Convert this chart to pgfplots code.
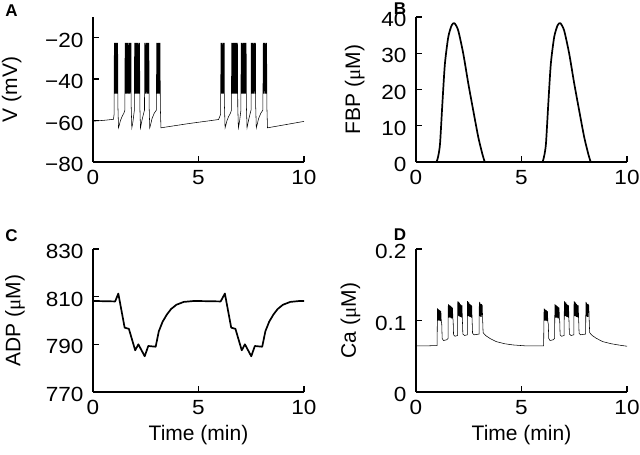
\documentclass[border=0pt]{standalone}
\usepackage{fontspec}
\setmainfont{Liberation Sans}
\newfontfamily\tickfont[FakeStretch=1.1]{Liberation Sans}
\newfontfamily\serifmu{Liberation Serif}
\usepackage{pgfplots}
\pgfplotsset{compat=1.18}
\pgfplotsset{
  panel/.style={
    scale only axis, width=211pt, anchor=south west,
    xmin=0, xmax=10, xtick={0,5,10},
    axis x line*=bottom, axis y line*=left,
    axis line style={line width=1.3pt},
    tick align=inside, major tick length=6pt,
    tick style={line width=1.3pt, black},
    tick label style={font=\tickfont\fontsize{20.5}{24}\selectfont},
    label style={font=\fontsize{21}{25}\selectfont},
    /pgf/number format/assume math mode=true,
    xticklabel style={yshift=-5pt},
    yticklabel style={xshift=-6pt, yshift=-2.5pt},
    xlabel style={at={(axis description cs:0.5,-0.30)}, anchor=center},
  },
  thin trace/.style={black, line width=0.55pt, no markers},
  thick trace/.style={black, line width=1.7pt, no markers, line join=round},
}
\newcommand{\mum}{({\serifmu μ}M)}
\begin{document}
\begin{tikzpicture}
\useasboundingbox (0,0) rectangle (640pt,455pt);
% ---------------- A ----------------
\begin{axis}[panel, at={(93pt,293pt)}, height=145pt,
  ymin=-80, ymax=-10, ytick={-80,-60,-40,-20},
  yticklabels={−80,−60,−40,−20},
  ylabel={V (mV)},
  ylabel style={at={(axis description cs:-0.385,0.5)}, anchor=center}]
\addplot[thin trace] coordinates {
(0,-60.3) (0.5,-59.9) (0.97,-59.4) (1.0,-57)
(1.01,-22.5)(1.03,-47)(1.05,-22.5)(1.07,-47)(1.09,-22.5)(1.11,-47)(1.13,-22.5)(1.15,-47)(1.17,-22.5)(1.18,-53)
(1.21,-63.5)(1.25,-62)(1.30,-60)(1.38,-58)(1.46,-56.5)(1.51,-55)
(1.52,-22.5)(1.54,-47)(1.56,-22.5)(1.58,-47)(1.60,-22.5)(1.62,-47)(1.64,-22.5)(1.66,-47)(1.68,-22.5)(1.70,-47)(1.72,-22.5)(1.74,-47)(1.76,-22.5)(1.78,-47)(1.80,-22.5)(1.81,-53)
(1.84,-63.5)(1.87,-62)(1.90,-60)(1.93,-57.5)(1.96,-55)
(1.97,-22.5)(1.99,-47)(2.01,-22.5)(2.03,-47)(2.05,-22.5)(2.07,-47)(2.09,-22.5)(2.11,-47)(2.13,-22.5)(2.15,-47)(2.17,-22.5)(2.19,-47)(2.21,-22.5)(2.22,-53)
(2.25,-63.5)(2.29,-61.5)(2.34,-59)(2.40,-56.5)(2.44,-55)
(2.45,-22.5)(2.47,-47)(2.49,-22.5)(2.51,-47)(2.53,-22.5)(2.55,-47)(2.57,-22.5)(2.59,-47)(2.61,-22.5)(2.63,-47)(2.65,-22.5)(2.66,-53)
(2.69,-63.5)(2.74,-61.5)(2.80,-59)(2.90,-56.5)(3.00,-55)
(3.02,-22.5)(3.04,-47)(3.06,-22.5)(3.08,-47)(3.10,-22.5)(3.12,-47)(3.14,-22.5)(3.16,-47)(3.18,-22.5)(3.19,-53)
(3.22,-63.5)(4.5,-61.5)(5.95,-59.5)(6.05,-57)
(6.06,-22.5)(6.08,-47)(6.10,-22.5)(6.12,-47)(6.14,-22.5)(6.16,-47)(6.18,-22.5)(6.20,-47)(6.22,-22.5)(6.23,-53)
(6.26,-63.5)(6.30,-62)(6.35,-60)(6.43,-58)(6.51,-56.5)(6.56,-55)
(6.57,-22.5)(6.59,-47)(6.61,-22.5)(6.63,-47)(6.65,-22.5)(6.67,-47)(6.69,-22.5)(6.71,-47)(6.73,-22.5)(6.75,-47)(6.77,-22.5)(6.79,-47)(6.81,-22.5)(6.83,-47)(6.85,-22.5)(6.86,-53)
(6.89,-63.5)(6.92,-62)(6.95,-60)(6.98,-57.5)(7.01,-55)
(7.02,-22.5)(7.04,-47)(7.06,-22.5)(7.08,-47)(7.10,-22.5)(7.12,-47)(7.14,-22.5)(7.16,-47)(7.18,-22.5)(7.20,-47)(7.22,-22.5)(7.24,-47)(7.26,-22.5)(7.27,-53)
(7.30,-63.5)(7.34,-61.5)(7.39,-59)(7.45,-56.5)(7.49,-55)
(7.50,-22.5)(7.52,-47)(7.54,-22.5)(7.56,-47)(7.58,-22.5)(7.60,-47)(7.62,-22.5)(7.64,-47)(7.66,-22.5)(7.68,-47)(7.70,-22.5)(7.71,-53)
(7.74,-63.5)(7.79,-61.5)(7.85,-59)(7.95,-56.5)(8.05,-55)
(8.07,-22.5)(8.09,-47)(8.11,-22.5)(8.13,-47)(8.15,-22.5)(8.17,-47)(8.19,-22.5)(8.21,-47)(8.23,-22.5)(8.24,-53)
(8.27,-63.5)(10,-60.4)
};
\end{axis}
% ---------------- B ----------------
\begin{axis}[panel, at={(416pt,293pt)}, height=145pt,
  ymin=0, ymax=40, ytick={0,10,20,30,40},
  ylabel={FBP \mum},
  ylabel style={at={(axis description cs:-0.29,0.5)}, anchor=center}]
\addplot[thick trace, smooth, tension=0.4] coordinates {
(0,0) (0.9,0) (0.98,0.1) (1.06,1.8) (1.14,5.1) (1.25,16.1) (1.37,27.1) (1.53,34.5) (1.69,37.7) (1.82,38.3)
(2.0,36.3) (2.24,29.9) (2.48,21.6) (2.71,14.3) (2.95,6.9) (3.14,2.3) (3.25,0.2) (3.3,0) (5.9,0)
(6.0,0.1) (6.08,1.8) (6.16,5.1) (6.27,16.1) (6.39,27.1) (6.55,34.5) (6.71,37.7) (6.84,38.3)
(7.02,36.3) (7.26,29.9) (7.50,21.6) (7.73,14.3) (7.97,6.9) (8.16,2.3) (8.27,0.2) (8.32,0) (10,0)
};
\end{axis}
% ---------------- C ----------------
\begin{axis}[panel, at={(93pt,63pt)}, height=143pt,
  ymin=770, ymax=830, ytick={770,790,810,830},
  xlabel={Time (min)}, ylabel={ADP \mum},
  ylabel style={at={(axis description cs:-0.37,0.5)}, anchor=center}]
\addplot[thick trace] coordinates {
(0,808.2) (1.05,808) (1.2,811.3) (1.5,797) (1.7,796.5) (2.0,787.5) (2.15,790) (2.45,785) (2.62,789.3) (2.97,789)
(3.12,795.5) (3.3,799.5) (3.5,802.5) (3.7,804.8) (3.95,806.6) (4.3,807.8) (4.8,808.2) (6.05,808)
(6.25,811.3) (6.55,797) (6.75,796.5) (7.05,787.5) (7.2,790) (7.5,785) (7.67,789.3) (8.02,789)
(8.17,795.5) (8.35,799.5) (8.55,802.5) (8.75,804.8) (9.0,806.6) (9.35,807.8) (9.8,808.2) (10,808.2)
};
\end{axis}
% ---------------- D ----------------
\begin{axis}[panel, at={(416pt,63pt)}, height=143pt,
  ymin=0, ymax=0.2, ytick={0,0.1,0.2}, yticklabels={0,0.1,0.2},
  xlabel={Time (min)}, ylabel={Ca \mum},
  ylabel style={at={(axis description cs:-0.31,0.5)}, anchor=center}]
\addplot[thin trace] coordinates {
(0,0.0645) (0.5,0.0645) (1.0,0.065) (1.01,0.098)
(1.02,0.117)(1.04,0.100)(1.06,0.116)(1.08,0.100)(1.10,0.115)(1.12,0.100)(1.14,0.114)(1.16,0.099)(1.18,0.113)(1.20,0.098)
(1.22,0.095)(1.24,0.075)(1.30,0.072)(1.45,0.073)(1.52,0.075)
(1.53,0.123)(1.55,0.104)(1.57,0.122)(1.59,0.104)(1.61,0.121)(1.63,0.104)(1.65,0.120)(1.67,0.103)(1.69,0.119)(1.71,0.103)(1.73,0.118)(1.75,0.102)
(1.76,0.100)(1.78,0.080)(1.85,0.078)(1.97,0.079)
(1.98,0.127)(2.00,0.106)(2.02,0.126)(2.04,0.106)(2.06,0.125)(2.08,0.105)(2.10,0.123)(2.12,0.105)(2.14,0.122)(2.16,0.104)(2.18,0.121)
(2.20,0.100)(2.22,0.081)(2.30,0.079)(2.43,0.080)
(2.44,0.127)(2.46,0.106)(2.48,0.126)(2.50,0.106)(2.52,0.125)(2.54,0.105)(2.56,0.123)(2.58,0.105)(2.60,0.122)(2.62,0.104)(2.64,0.121)
(2.66,0.100)(2.68,0.082)(2.75,0.080)(2.99,0.081)
(3.00,0.126)(3.02,0.106)(3.04,0.125)(3.06,0.105)(3.08,0.123)(3.10,0.105)(3.12,0.122)(3.14,0.121)
(3.16,0.100)(3.18,0.083)(3.30,0.079)(3.50,0.075)(3.80,0.0705)(4.20,0.0675)(4.60,0.0658)(5.20,0.0645)(6.05,0.0645)(6.06,0.098)
(6.07,0.117)(6.09,0.100)(6.11,0.116)(6.13,0.100)(6.15,0.115)(6.17,0.100)(6.19,0.114)(6.21,0.099)(6.23,0.113)(6.25,0.098)
(6.27,0.095)(6.29,0.075)(6.35,0.072)(6.50,0.073)(6.57,0.075)
(6.58,0.123)(6.60,0.104)(6.62,0.122)(6.64,0.104)(6.66,0.121)(6.68,0.104)(6.70,0.120)(6.72,0.103)(6.74,0.119)(6.76,0.103)(6.78,0.118)(6.80,0.102)
(6.81,0.100)(6.83,0.080)(6.90,0.078)(7.02,0.079)
(7.03,0.127)(7.05,0.106)(7.07,0.126)(7.09,0.106)(7.11,0.125)(7.13,0.105)(7.15,0.123)(7.17,0.105)(7.19,0.122)(7.21,0.104)(7.23,0.121)
(7.25,0.100)(7.27,0.081)(7.35,0.079)(7.48,0.080)
(7.49,0.127)(7.51,0.106)(7.53,0.126)(7.55,0.106)(7.57,0.125)(7.59,0.105)(7.61,0.123)(7.63,0.105)(7.65,0.122)(7.67,0.104)(7.69,0.121)
(7.71,0.100)(7.73,0.082)(7.80,0.080)(8.04,0.081)
(8.05,0.126)(8.07,0.106)(8.09,0.125)(8.11,0.105)(8.13,0.123)(8.15,0.105)(8.17,0.122)(8.19,0.121)
(8.21,0.100)(8.23,0.083)(8.35,0.079)(8.55,0.075)(8.85,0.0705)(9.25,0.0675)(9.65,0.0655)(10,0.0640)
};
\end{axis}
% panel letters
\node[inner sep=0pt, font=\bfseries\fontsize{17}{17}\selectfont] at (11.5pt,444pt) {A};
\node[inner sep=0pt, font=\bfseries\fontsize{17}{17}\selectfont] at (400pt,446.5pt) {B};
\node[inner sep=0pt, font=\bfseries\fontsize{17}{17}\selectfont] at (11.5pt,219pt) {C};
\node[inner sep=0pt, font=\bfseries\fontsize{17}{17}\selectfont] at (400pt,220.5pt) {D};
\end{tikzpicture}
\end{document}
